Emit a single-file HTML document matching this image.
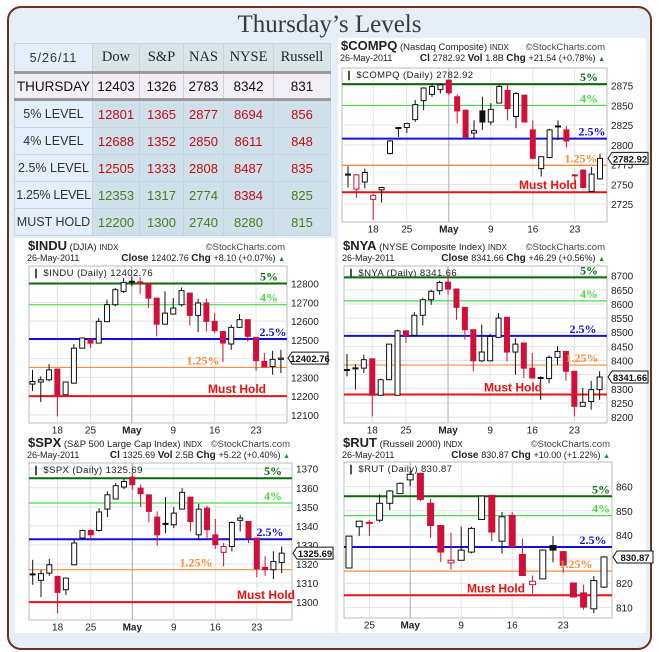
<!DOCTYPE html>
<html><head><meta charset="utf-8">
<style>
html,body{margin:0;padding:0;background:#fff;}
#wrap{position:relative;width:659px;height:652px;overflow:hidden;font-family:"Liberation Sans",sans-serif;}
#frame{position:absolute;left:7px;top:6px;width:641px;height:640px;border:2px solid #6a3020;border-radius:14px;background:#e6eff8;}
#title{position:absolute;left:0;top:11px;width:659px;text-align:center;font-family:"Liberation Serif",serif;font-size:25px;color:#3a3a3a;}
table{position:absolute;left:14px;top:43px;border-collapse:collapse;table-layout:fixed;width:316px;}
td{border:1px solid #c8d4dc;text-align:center;padding:0;font-size:13px;white-space:nowrap;overflow:hidden;}
.hd td{background:#d8e6e8;font-family:"Liberation Serif",serif;font-size:14.5px;color:#223;height:27px;}
.hd td.c0{background:#e4eefa;font-family:"Liberation Sans",sans-serif;font-size:12.5px;color:#333;letter-spacing:1px}
.th td{background:#f1eff5;height:24px;border-top:3px solid #9a9a9a;border-bottom:3px solid #9a9a9a;font-size:13.5px;color:#111}
.lv td{background:#cfe0ea;height:26px;}
.lv td.c0{background:#e4eefa;color:#333;font-size:12.5px}
.r{color:#c01010}.g{color:#4a7d1c}
svg{position:absolute;left:0;top:0;}
</style></head><body>
<div id="wrap">
<div id="frame"></div>
<div id="title">Thursday’s Levels</div>
<table>
<colgroup><col style="width:78px"><col style="width:47px"><col style="width:44px"><col style="width:40px"><col style="width:50px"><col style="width:57px"></colgroup>
<tr class="hd"><td class="c0">5/26/11</td><td>Dow</td><td>S&amp;P</td><td>NAS</td><td>NYSE</td><td>Russell</td></tr>
<tr class="th"><td>THURSDAY</td><td>12403</td><td>1326</td><td>2783</td><td>8342</td><td>831</td></tr>
<tr class="lv"><td class="c0">5% LEVEL</td><td class="r">12801</td><td class="r">1365</td><td class="r">2877</td><td class="r">8694</td><td class="r">856</td></tr>
<tr class="lv"><td class="c0">4% LEVEL</td><td class="r">12688</td><td class="r">1352</td><td class="r">2850</td><td class="r">8611</td><td class="r">848</td></tr>
<tr class="lv"><td class="c0">2.5% LEVEL</td><td class="r">12505</td><td class="r">1333</td><td class="r">2808</td><td class="r">8487</td><td class="r">835</td></tr>
<tr class="lv"><td class="c0" style="letter-spacing:-0.3px">1.25% LEVEL</td><td class="g">12353</td><td class="g">1317</td><td class="g">2774</td><td class="r">8384</td><td class="g">825</td></tr>
<tr class="lv"><td class="c0">MUST HOLD</td><td class="g">12200</td><td class="g">1300</td><td class="g">2740</td><td class="g">8280</td><td class="g">815</td></tr>
</table>
<svg id="sv" width="659" height="652"></svg>
</div>
<script>
// ---- data ----
const dateLabels = ["18","25","May","9","16","23"];
const dateIdx = [3,7,12,17,22,27];
const rutDateLabels = ["25","May","9","16","23"];
const rutDateIdx = [2,6,11,16,21];
const levelNames = ["5%","4%","2.5%","1.25%","Must Hold"];

const compqOpen  = [2762,2744,2753,2731,2743,2789,2821,2822,2832,2856,2864,2870,2882,2861,2844,2815,2843,2829,2853,2869,2836,2863,2819,2770,2784,2823,2819,2761,2768,2741,2757];
const compqHigh  = [2773,2763,2770,2738,2747,2806,2822,2828,2857,2873,2878,2878,2883,2864,2844,2831,2861,2853,2876,2878,2867,2863,2831,2785,2820,2831,2824,2763,2769,2772,2789];
const compqLow   = [2746,2733,2745,2705,2727,2788,2810,2815,2829,2844,2861,2865,2863,2827,2810,2807,2819,2825,2853,2831,2821,2829,2782,2760,2783,2806,2797,2750,2745,2741,2756];
const compqClose = [2763,2762,2765,2736,2746,2805,2822,2827,2851,2872,2874,2876,2866,2843,2810,2818,2829,2845,2874,2846,2865,2829,2783,2785,2819,2824,2805,2762,2746,2763,2782.92];
const compqLevels = [2877,2850,2808,2774,2740];
const compqTicks = [2725,2750,2775,2800,2825,2850,2875];

const induOpen  = [12264,12275,12287,12344,12207,12269,12456,12501,12483,12597,12688,12759,12813,12810,12798,12723,12584,12638,12688,12750,12631,12697,12599,12545,12478,12567,12608,12513,12385,12358,12396];
const induHigh  = [12340,12305,12371,12344,12278,12478,12510,12501,12617,12715,12777,12830,12839,12834,12798,12723,12759,12723,12780,12750,12720,12720,12643,12545,12581,12638,12608,12513,12430,12442,12447];
const induLow   = [12228,12168,12278,12091,12207,12266,12453,12456,12483,12597,12679,12750,12786,12745,12670,12519,12581,12634,12679,12577,12542,12545,12536,12381,12447,12563,12492,12335,12355,12314,12323];
const induClose = [12278,12287,12340,12207,12275,12456,12510,12483,12599,12688,12768,12807,12810,12809,12723,12584,12643,12670,12763,12631,12697,12599,12549,12483,12567,12608,12519,12389,12355,12396,12402.76];
const induLevels = [12801,12688,12505,12353,12200];
const induTicks = [12100,12200,12300,12400,12500,12600,12700,12800];

const nyaOpen  = [8366,8372,8373,8406,8277,8332,8277,8505,8489,8560,8615,8647,8677,8653,8588,8509,8399,8399,8482,8553,8430,8462,8373,8340,8336,8411,8432,8362,8238,8255,8297];
const nyaHigh  = [8423,8387,8421,8406,8336,8458,8509,8505,8571,8621,8650,8682,8698,8653,8588,8509,8527,8494,8568,8553,8479,8462,8426,8344,8418,8450,8432,8362,8303,8328,8362];
const nyaLow   = [8344,8297,8356,8202,8277,8332,8277,8462,8485,8524,8597,8633,8633,8544,8474,8362,8395,8399,8482,8397,8350,8338,8338,8261,8320,8385,8329,8202,8238,8226,8261];
const nyaClose = [8368,8374,8403,8277,8332,8458,8505,8489,8560,8615,8645,8676,8653,8588,8509,8399,8430,8485,8550,8430,8458,8373,8338,8338,8411,8432,8362,8238,8252,8297,8341.66];
const nyaLevels = [8694,8611,8487,8384,8280];
const nyaTicks = [8200,8250,8300,8350,8400,8450,8500,8550,8600,8650,8700];

const spxOpen  = [1314.5,1311.4,1315.2,1313.5,1306.5,1319.6,1333.6,1337.6,1337.6,1348.8,1354.1,1360.4,1365.6,1359.8,1356.3,1344.6,1341.3,1340.6,1348.8,1355.1,1335.3,1349.3,1335.3,1326.1,1329.2,1342.9,1342.3,1333.6,1318.2,1317,1320.8];
const spxHigh  = [1322.2,1317,1322.6,1313.5,1312.9,1332.7,1338,1338,1349.3,1358.1,1362.5,1364.6,1367.7,1361.6,1356.3,1347.6,1355.1,1349.9,1359.8,1355.1,1351.6,1350.6,1343.6,1331,1342.3,1345.8,1342.3,1333.6,1324,1326.6,1329.2];
const spxLow   = [1309.1,1302.6,1313.8,1294.2,1303.8,1319.2,1333.1,1332.4,1337.1,1344.6,1354.1,1359.3,1359,1349.9,1341.8,1329.6,1336.2,1338.8,1348.5,1337.1,1332.4,1333.1,1327.8,1318.7,1326.6,1337.1,1331,1313.1,1313.8,1312.1,1315.2];
const spxClose = [1314.8,1314.9,1319.6,1305.1,1312.6,1331,1337.6,1335.3,1347.3,1356.3,1361.1,1363.3,1361.6,1356.9,1347.6,1335.3,1341.1,1346.7,1357.6,1342.3,1348.8,1338,1330.1,1329.2,1341.8,1344.1,1333.6,1317.5,1317,1321.3,1325.69];
const spxLevels = [1365,1352,1333,1317,1300];
const spxTicks = [1300,1310,1320,1330,1340,1350,1360,1370];

const rutOpen  = [826.3,843.4,845.2,846.1,853.1,857.1,862.8,865.5,853.1,843.9,828.4,829.5,832.9,846.4,856.4,837.4,848.1,831.9,819.4,821.8,835.6,833.1,820.1,816,809.4,818.4];
const rutHigh  = [839.5,845.7,846.1,856.8,858.6,861.7,866.5,865.8,855,843.9,840.9,843.4,843.4,856.4,856.4,849.5,849.5,838.4,823.2,834,839.5,833.1,820.1,819.4,822.9,831.2];
const rutLow   = [826.3,839.5,839.5,845.3,850.3,857.1,860.3,854,838.8,828.8,825.7,829.5,832.3,846.4,837.4,832.3,835.1,823.2,815.7,821.8,828.7,824.3,814.3,809,807.6,818];
const rutClose = [839.5,845.7,845,853.1,858.2,861.4,865.1,854.7,843.9,832.9,829.5,833.7,842.7,856.1,841.2,847.5,835.1,823.2,820.8,833.7,833.7,827.5,814.3,810.1,821.1,830.87];
const rutLevels = [856,848,835,825,815];
const rutTicks = [810,820,830,840,850,860];

// ---- drawing ----
const NS="http://www.w3.org/2000/svg";
const sv=document.getElementById('sv');
const panelLayer=document.createElementNS(NS,'g');sv.appendChild(panelLayer);
function mk(tag,attrs,parent){const e=document.createElementNS(NS,tag);for(const k in attrs)e.setAttribute(k,attrs[k]);(parent||sv).appendChild(e);return e;}
function txt(s,attrs,parent){const e=mk('text',attrs,parent);e.textContent=s;return e;}
const lvlColor=["#0a6a0a","#44dd44","#1010e0","#ff8a3a","#ee1010"];
const lvlWidth=[2,1.2,2,1.2,2];

function chart(cfg){
  const g=mk('g',{});
  
  
  const pnl=mk('rect',{x:cfg.px,y:cfg.py,width:cfg.pw,height:cfg.ph,fill:'#fff'},panelLayer);
  
  
  const L=cfg.l,R=cfg.r,T=cfg.t,B=cfg.b;
  const y=v=>T+(cfg.vmax-v)/(cfg.vmax-cfg.vmin)*(B-T);
  const x=i=>cfg.x0+i*cfg.dx;
  const h1=txt('',{x:L-1,y:cfg.py+12,'font-size':9.5,fill:'#222'},g);
  
  
  const t1=mk('tspan',{'font-size':13,'font-weight':'bold'},h1);t1.textContent=cfg.sym;
  const t2=mk('tspan',{'font-size':9.5},h1);t2.textContent=' ('+cfg.full+') ';
  const t3=mk('tspan',{'font-size':8},h1);t3.textContent='INDX';
  const cr=txt('©StockCharts.com',{x:R-2,y:cfg.py+12,'font-size':9.5,fill:'#444','text-anchor':'end'},g);
  
  
  const d=txt('26-May-2011',{x:L-2,y:cfg.py+23,'font-size':9,fill:'#222'},g);
  
  
  const st=txt('',{x:R-2,y:cfg.py+23,'font-size':9,fill:'#222','text-anchor':'end'},g);
  
  
  cfg.stats.forEach(([b,n])=>{const a=mk('tspan',{'font-weight':'bold','font-size':10},st);a.textContent=b+' ';const c=mk('tspan',{},st);c.textContent=n+' ';});
  const tri=mk('tspan',{fill:'#2a8a2a','font-size':7},st);tri.textContent='▲';
  const pa=mk('rect',{x:L,y:T,width:R-L,height:B-T,fill:'#fff',stroke:'#bbb','stroke-width':1},g);
  
  
  cfg.ticks.forEach(v=>{
    const gl=mk('line',{x1:L,x2:R,y1:y(v),y2:y(v),stroke:'#e2e2e2','stroke-width':1},g);
    
    
    const tl=txt(String(v),{x:R+4,y:y(v)+4,'font-size':10,fill:'#222'},g);
    
    
  });
  cfg.dIdx.forEach((ix,k)=>{
    const isMay=cfg.dLab[k]==='May';
    const vl=mk('line',{x1:x(ix),x2:x(ix),y1:T,y2:B,stroke:isMay?'#aaa':'#e2e2e2','stroke-width':1},g);
    
    
    const dl=txt(cfg.dLab[k],{x:x(ix),y:B+10.5,'font-size':10,fill:'#222','text-anchor':'middle','font-weight':isMay?'bold':'normal'},g);
    
    
  });
  const lg=txt('\u2759 '+cfg.sym+' (Daily) '+cfg.last,{x:L+3,y:T+10,'font-size':9.5,fill:'#222','letter-spacing':'0.4'},g);
  
  
  cfg.levels.forEach((v,k)=>{
    const ln=mk('line',{x1:L,x2:R,y1:y(v),y2:y(v),stroke:lvlColor[k],'stroke-width':lvlWidth[k]},g);
    
    
  });
  const w=cfg.cw;
  cfg.o.forEach((op,i)=>{
    const cl=cfg.c[i],hi=cfg.h[i],lo=cfg.lw[i];
    const prev=i>0?cfg.c[i-1]:op;
    const col=cl<prev?'#d0103a':'#111';
    const hollow=cl>=op;
    const cx=x(i);
    const wk=mk('line',{x1:cx,x2:cx,y1:y(hi),y2:y(lo),stroke:col,'stroke-width':1},g);
    
    
    const top=y(Math.max(op,cl)),bot=y(Math.min(op,cl));
    const bd=mk('rect',{x:cx-w/2,y:top,width:w,height:Math.max(1,bot-top),fill:hollow?'#fff':col,stroke:col,'stroke-width':1},g);
    
    
  });
  cfg.levels.forEach((v,k)=>{
    const lt=txt(levelNames[k],{x:cfg.lx[k],y:y(v)-3,'font-size':12,'font-weight':'bold',fill:lvlColor[k],'text-anchor':'middle','font-family':k===4?'Liberation Sans, sans-serif':'Liberation Serif, serif'},g);
    
    
  });
  const cv=cfg.c[cfg.c.length-1],py=y(cv);
  const tg=mk('path',{d:`M${R+1},${py} L${R+5},${py-6} L${R+41},${py-6} L${R+41},${py+6} L${R+5},${py+6} Z`,fill:'#fff',stroke:'#111','stroke-width':1},g);
  
  
  const tt=txt(cfg.last,{x:R+23,y:py+4,'font-size':9.5,'font-weight':'bold',fill:'#111','text-anchor':'middle'},g);
  
  
}

chart({name:'compq',sym:'$COMPQ',full:'Nasdaq Composite',last:'2782.92',stats:[['Cl','2782.92'],['Vol','1.8B'],['Chg','+21.54 (+0.78%)']],
  px:338,py:38,pw:308,ph:200,l:342,r:607,t:68,b:222,vmax:2897.4,vmin:2702.3,x0:348,dx:8.4,cw:5,
  o:compqOpen,h:compqHigh,lw:compqLow,c:compqClose,levels:compqLevels,ticks:compqTicks,dLab:dateLabels,dIdx:dateIdx,lx:[589,589,592,581,548]});
chart({name:'indu',sym:'$INDU',full:'DJIA',last:'12402.76',stats:[['Close','12402.76'],['Chg','+8.10 (+0.07%)']],
  px:15,py:238,pw:320,ph:197,l:29,r:287,t:266,b:423,vmax:12894.5,vmin:12056.3,x0:32.5,dx:8.28,cw:5,
  o:induOpen,h:induHigh,lw:induLow,c:induClose,levels:induLevels,ticks:induTicks,dLab:dateLabels,dIdx:dateIdx,lx:[269,269,273,203,237]});
chart({name:'nya',sym:'$NYA',full:'NYSE Composite Index',last:'8341.66',stats:[['Close','8341.66'],['Chg','+46.29 (+0.56%)']],
  px:338,py:238,pw:308,ph:197,l:344,r:607,t:266,b:423,vmax:8734.3,vmin:8179,x0:347,dx:8.42,cw:5,
  o:nyaOpen,h:nyaHigh,lw:nyaLow,c:nyaClose,levels:nyaLevels,ticks:nyaTicks,dLab:dateLabels,dIdx:dateIdx,lx:[589,589,583,582,513]});
chart({name:'spx',sym:'$SPX',full:'S&P 500 Large Cap Index',last:'1325.69',stats:[['Cl','1325.69'],['Vol','2.5B'],['Chg','+5.22 (+0.40%)']],
  px:15,py:435,pw:320,ph:198,l:29,r:292,t:463,b:620,vmax:1373,vmin:1290.6,x0:32.7,dx:8.3,cw:5,
  o:spxOpen,h:spxHigh,lw:spxLow,c:spxClose,levels:spxLevels,ticks:spxTicks,dLab:dateLabels,dIdx:dateIdx,lx:[273,273,270,196,266]});
chart({name:'rut',sym:'$RUT',full:'Russell 2000',last:'830.87',stats:[['Close','830.87'],['Chg','+10.00 (+1.22%)']],
  px:338,py:435,pw:308,ph:198,l:344,r:612,t:462,b:618,vmax:870.2,vmin:805.6,x0:349,dx:10.2,cw:6,
  o:rutOpen,h:rutHigh,lw:rutLow,c:rutClose,levels:rutLevels,ticks:rutTicks,dLab:rutDateLabels,dIdx:rutDateIdx,lx:[601,601,593,576,496]});
</script>
</body></html>
